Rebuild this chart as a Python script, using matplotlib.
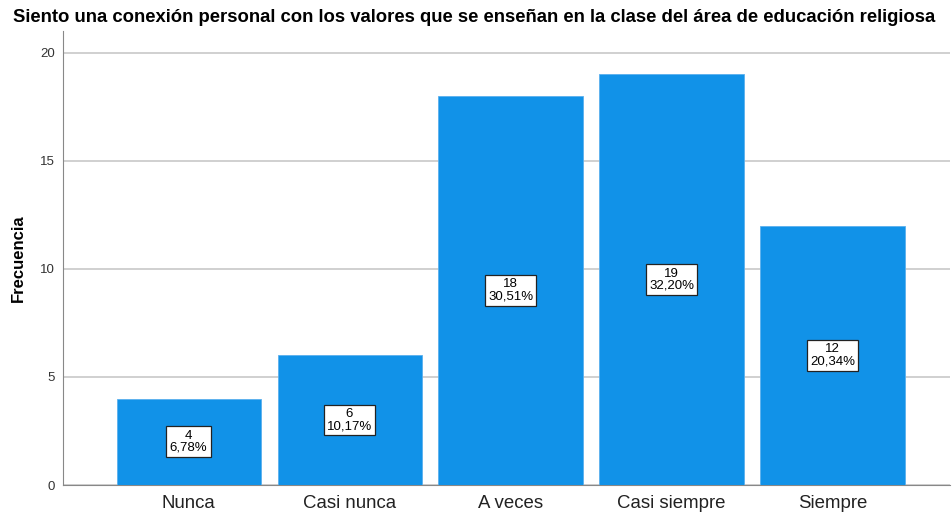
import matplotlib
matplotlib.use("Agg")
import matplotlib.pyplot as plt

categories = ["Nunca", "Casi nunca", "A veces", "Casi siempre", "Siempre"]
counts = [4, 6, 18, 19, 12]
percents = ["6,78%", "10,17%", "30,51%", "32,20%", "20,34%"]
yticks = [0, 5, 10, 15, 20]

plt.rcParams['font.family'] = ['Liberation Sans', 'DejaVu Sans']

fig = plt.figure(figsize=(9.52, 5.16), dpi=100)
ax = fig.add_axes([63/952, 31/516, 887/952, 454/516])

x = list(range(len(categories)))
ax.bar(x, counts, width=0.895, color='#1192E8', edgecolor='#5AB0EE', linewidth=0.6, zorder=3)

for xi, c, p in zip(x, counts, percents):
    ax.text(xi, c/2, f"{c}\n{p}", ha='center', va='center', fontsize=9.5, linespacing=1.0,
            zorder=5,
            bbox=dict(boxstyle='square,pad=0.25', facecolor='white', edgecolor='#222222', linewidth=0.9))

ax.set_xlim(-0.78, 4.73)
ax.set_ylim(0, 21)
ax.set_yticks(yticks)
ax.set_xticks(x)
ax.set_xticklabels(categories, fontsize=13.4, color='#222222')
ax.tick_params(axis='y', length=0, labelsize=9.5, pad=6, labelcolor='#333333')
ax.tick_params(axis='x', length=0, pad=7)
ax.yaxis.grid(True, color='#C8C8C8', linewidth=1.2, zorder=0)
ax.set_axisbelow(True)
for s in ['top', 'right']:
    ax.spines[s].set_visible(False)
ax.spines['left'].set_color('#888888')
ax.spines['bottom'].set_color('#888888')
ax.set_ylabel("Frecuencia", fontsize=12, fontweight='bold', labelpad=10)

fig.text(474/952, 1 - 17/516, "Siento una conexión personal con los valores que se enseñan en la clase del área de educación religiosa",
         ha='center', va='center', fontsize=13.3, fontweight='bold')

fig.savefig("out.png", dpi=100)
